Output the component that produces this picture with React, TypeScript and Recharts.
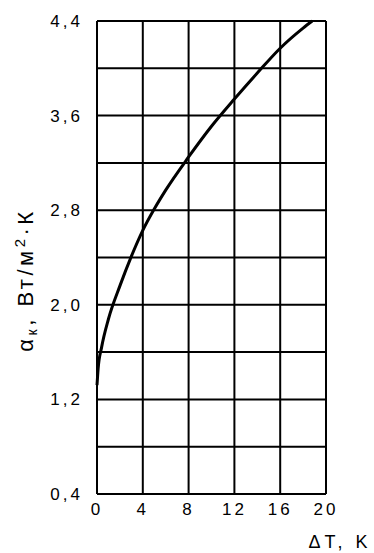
import { LineChart, Line, XAxis, YAxis, CartesianGrid } from "recharts";

// ΔT, K
const deltaT = [0, 0.1, 0.4, 1, 2, 3, 4, 5, 6, 8, 10, 12, 14, 16, 18, 18.8];
// α_к, W/m²·K
const alpha = [1.32, 1.46, 1.64, 1.88, 2.16, 2.41, 2.63, 2.81, 2.97, 3.25, 3.51, 3.74, 3.96, 4.17, 4.34, 4.4];

const xTicks = [0, 4, 8, 12, 16, 20];
const yTicks = [0.4, 0.8, 1.2, 1.6, 2.0, 2.4, 2.8, 3.2, 3.6, 4.0, 4.4];
const yLabelled = [0.4, 1.2, 2.0, 2.8, 3.6, 4.4];

const data = deltaT.map((t, i) => ({ t, a: alpha[i] }));

const FONT = "'Liberation Sans', Arial, sans-serif";
const tickStyle = { fontSize: 17, fill: "#000", fontFamily: FONT, letterSpacing: 3 };

const fmtY = (v: number) =>
  yLabelled.some((l) => Math.abs(l - v) < 1e-6) ? v.toFixed(1).replace(".", ",") : "";

export default function App() {
  return (
    <div style={{ position: "absolute", left: 0, top: 0, background: "#fff" }}>
      <LineChart
        width={374}
        height={553}
        data={data}
        margin={{ top: 21, right: 48, bottom: 0, left: 0 }}
      >
        <CartesianGrid stroke="#000" strokeWidth={2} />
        <XAxis
          type="number"
          dataKey="t"
          domain={[0, 20]}
          ticks={xTicks}
          tickLine={false}
          tickSize={6}
          tickMargin={3}
          axisLine={{ stroke: "#000", strokeWidth: 2 }}
          tick={tickStyle}
          height={59}
          label={{
            content: () => (
              <text x={340} y={548} textAnchor="middle" fontFamily={FONT} fontSize={18} fill="#000" letterSpacing={4}>
                ΔT, K
              </text>
            ),
          }}
        />
        <YAxis
          type="number"
          domain={[0.4, 4.4]}
          ticks={yTicks}
          tickFormatter={fmtY}
          tickLine={false}
          tickSize={6}
          tickMargin={8}
          axisLine={{ stroke: "#000", strokeWidth: 2 }}
          tick={tickStyle}
          width={97}
          label={{
            content: () => (
              <text
                x={33}
                y={280}
                transform="rotate(-90, 33, 280)"
                textAnchor="middle"
                fontFamily={FONT}
                fontSize={22}
                fill="#000"
                letterSpacing={3.5}
              >
                α
                <tspan fontSize={14} dy={4}>к</tspan>
                <tspan dy={-4}>, Вт/м</tspan>
                <tspan fontSize={15} dy={-8}>2</tspan>
                <tspan dy={8}>·К</tspan>
              </text>
            ),
          }}
        />
        <Line
          type="monotone"
          dataKey="a"
          stroke="#000"
          strokeWidth={3}
          dot={false}
          isAnimationActive={false}
        />
      </LineChart>
    </div>
  );
}
